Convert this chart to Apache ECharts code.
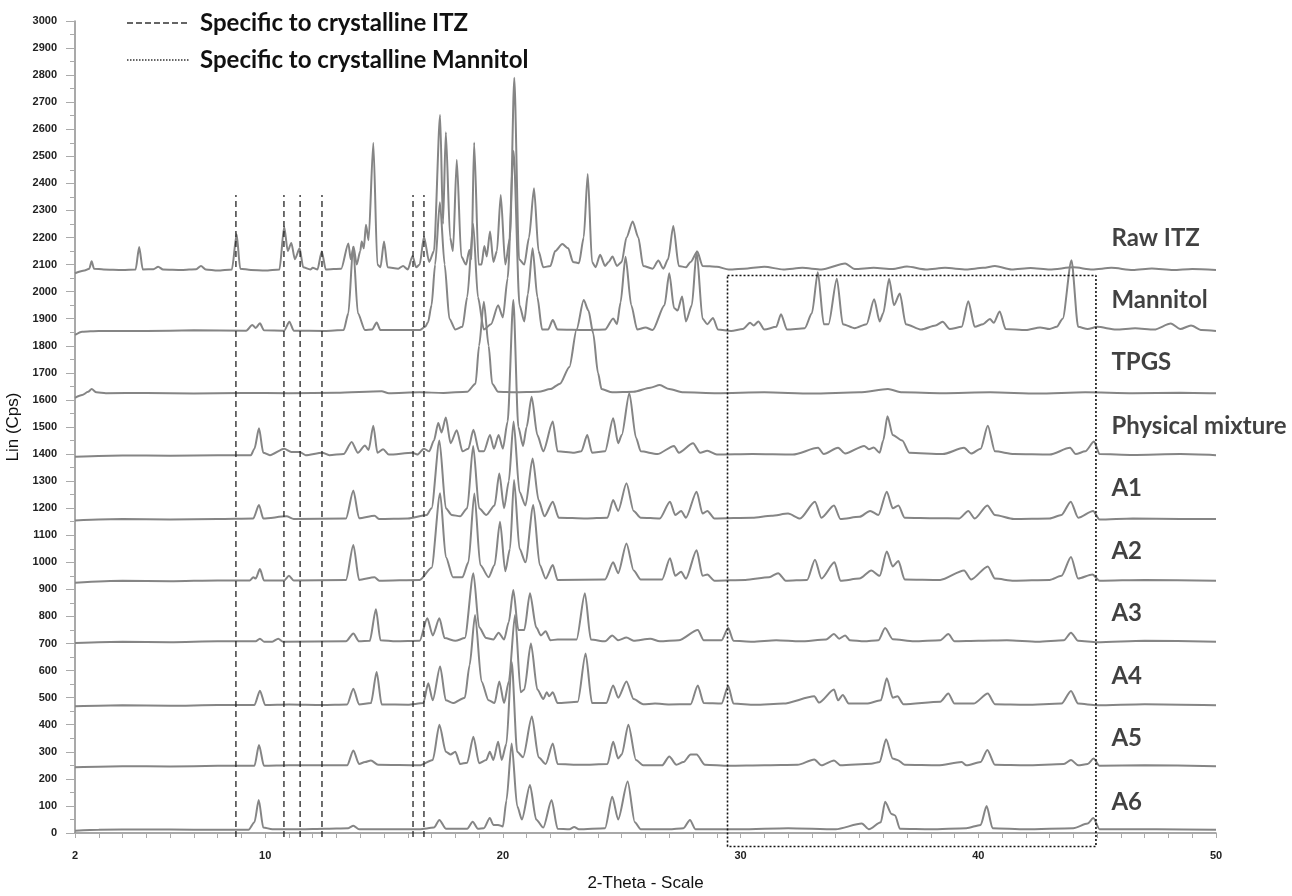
<!DOCTYPE html>
<html lang="en">
<head>
    <meta charset="UTF-8">
    <title>XRD patterns</title>
    <script src="https://cdn.jsdelivr.net/npm/echarts@6/dist/echarts.min.js"></script>
    <style>
        html, body { margin: 0; padding: 0; background: #fff; }
        #main { width: 1292px; height: 896px; }
    </style>
</head>
<body>
<div id="main"></div>
<script>
    // 2-Theta / Lin (Cps) points, one list per pattern
    var rawItz = [[2.0,2068],[2.4,2078],[2.6,2085],[2.7,2112],[2.8,2085],[3.2,2082],[4.0,2080],[4.55,2082],[4.7,2165],[4.85,2082],[5.3,2083],[5.5,2092],[5.7,2082],[6.5,2080],[7.1,2083],[7.3,2095],[7.5,2082],[8.0,2078],[8.6,2082],[8.8,2212],[8.95,2085],[9.4,2080],[10.0,2078],[10.6,2082],[10.8,2240],[10.95,2150],[11.1,2180],[11.25,2120],[11.45,2160],[11.6,2090],[11.9,2082],[12.0,2088],[12.2,2082],[12.38,2148],[12.55,2082],[13.2,2085],[13.5,2178],[13.6,2120],[13.72,2166],[13.85,2100],[14.0,2150],[14.06,2185],[14.15,2160],[14.24,2247],[14.35,2190],[14.55,2550],[14.72,2100],[14.85,2090],[15.0,2185],[15.15,2090],[15.6,2085],[15.8,2095],[16.0,2082],[16.2,2132],[16.35,2090],[16.5,2100],[16.68,2203],[16.9,2110],[17.1,2150],[17.36,2653],[17.48,2250],[17.6,2589],[17.78,2200],[17.9,2150],[18.06,2487],[18.25,2130],[18.45,2100],[18.59,2154],[18.68,2120],[18.79,2551],[18.98,2100],[19.1,2100],[19.22,2169],[19.32,2130],[19.46,2222],[19.6,2110],[19.75,2150],[19.91,2357],[20.1,2100],[20.3,2200],[20.48,2790],[20.68,2120],[20.9,2100],[21.1,2200],[21.31,2382],[21.5,2150],[21.7,2090],[22.0,2095],[22.2,2150],[22.5,2176],[22.75,2160],[22.95,2110],[23.2,2105],[23.4,2200],[23.57,2435],[23.75,2110],[23.9,2090],[24.09,2136],[24.3,2095],[24.45,2110],[24.61,2130],[24.8,2095],[25.0,2110],[25.2,2200],[25.46,2259],[25.7,2200],[25.9,2095],[26.3,2085],[26.54,2115],[26.75,2085],[26.95,2120],[27.17,2243],[27.4,2095],[27.7,2090],[27.9,2110],[28.18,2148],[28.4,2095],[29.0,2092],[29.5,2082],[30.3,2086],[31.0,2092],[31.8,2082],[32.6,2088],[33.4,2082],[34.4,2104],[34.8,2084],[35.6,2088],[36.4,2084],[37.0,2093],[37.8,2082],[38.6,2088],[39.5,2082],[40.2,2088],[40.7,2095],[41.4,2082],[42.2,2087],[43.0,2082],[44.0,2090],[44.8,2082],[45.6,2088],[46.5,2080],[47.3,2086],[48.2,2080],[49.0,2084],[50.0,2080]];

    var mannitol = [[2.0,1840],[2.3,1852],[3,1855],[5,1855],[7,1857],[9.2,1856],[9.46,1877],[9.6,1866],[9.78,1883],[9.95,1857],[10.8,1856],[11.02,1889],[11.2,1856],[12.5,1855],[13.3,1858],[13.5,1920],[13.7,2166],[13.9,1920],[14.2,1858],[14.5,1860],[14.69,1886],[14.85,1858],[16.5,1858],[16.73,1870],[16.85,1887],[17.0,1950],[17.15,2100],[17.35,2330],[17.55,2100],[17.75,1900],[18.0,1860],[18.3,1870],[18.5,1980],[18.75,2250],[18.95,1980],[19.2,1860],[19.5,1880],[19.8,1950],[20.0,1905],[20.2,2050],[20.45,2520],[20.7,1950],[20.9,1890],[21.05,1990],[21.25,2160],[21.45,1980],[21.65,1860],[21.9,1860],[22.1,1895],[22.3,1860],[23.5,1858],[24.3,1860],[24.64,1901],[24.8,1880],[24.95,1960],[25.16,2129],[25.4,1950],[25.65,1860],[26.0,1868],[26.3,1858],[26.8,1950],[27.0,2068],[27.2,1940],[27.35,1930],[27.54,1982],[27.7,1890],[27.95,1950],[28.15,2148],[28.4,1900],[28.6,1880],[28.84,1903],[29.05,1860],[29.6,1855],[30.1,1862],[30.4,1885],[30.55,1875],[30.75,1890],[31.0,1860],[31.5,1870],[31.7,1917],[31.95,1860],[32.7,1865],[33.0,1920],[33.25,2072],[33.5,1880],[33.7,1880],[34.05,2048],[34.3,1880],[34.8,1865],[35.3,1880],[35.62,1972],[35.85,1890],[36.0,1920],[36.25,2048],[36.45,1950],[36.7,1993],[36.95,1880],[37.6,1860],[38.2,1875],[38.5,1889],[38.8,1862],[39.3,1870],[39.58,1965],[39.85,1870],[40.2,1880],[40.49,1899],[40.65,1885],[40.9,1927],[41.15,1862],[42.0,1858],[42.6,1868],[43.0,1862],[43.3,1870],[43.55,1900],[43.92,2116],[44.2,1870],[44.6,1862],[45.0,1870],[45.8,1860],[46.6,1865],[47.4,1860],[48.1,1882],[48.5,1862],[48.95,1875],[49.4,1858],[50,1855]];

    var tpgs = [[2.0,1608],[2.3,1618],[2.55,1630],[2.7,1640],[2.9,1628],[3.3,1625],[5,1626],[7,1624],[9,1626],[11,1625],[13,1627],[14.9,1632],[15.2,1625],[16.5,1628],[17.5,1626],[18.5,1630],[18.85,1660],[19.0,1800],[19.2,1963],[19.4,1800],[19.55,1660],[19.8,1630],[20.5,1628],[21.5,1630],[22.0,1640],[22.4,1660],[22.8,1722],[23.1,1860],[23.4,1969],[23.6,1930],[23.8,1846],[24.0,1700],[24.15,1640],[24.6,1628],[25.5,1630],[26.2,1645],[26.6,1655],[27.0,1640],[27.6,1628],[29,1625],[31,1628],[33,1624],[35,1628],[36.2,1640],[36.8,1628],[38.5,1625],[40.5,1628],[42.5,1624],[44.5,1628],[46.5,1625],[48.5,1627],[50,1625]];

    var physMix = [[2,1390],[4,1395],[6,1394],[8,1396],[9.4,1396],[9.55,1420],[9.74,1495],[9.92,1405],[10.2,1396],[10.8,1420],[11.1,1408],[11.45,1408],[11.7,1396],[12.4,1405],[12.7,1396],[13.3,1400],[13.64,1445],[13.9,1405],[14.2,1432],[14.35,1415],[14.55,1505],[14.72,1405],[14.96,1418],[15.2,1398],[16.2,1405],[16.4,1398],[16.68,1420],[16.9,1410],[17.1,1450],[17.28,1515],[17.42,1480],[17.6,1535],[17.8,1440],[18.06,1488],[18.3,1410],[18.55,1420],[18.76,1490],[19.0,1410],[19.2,1410],[19.46,1470],[19.62,1420],[19.82,1470],[20.0,1420],[20.2,1520],[20.44,1969],[20.65,1500],[20.85,1430],[21.0,1500],[21.21,1612],[21.45,1470],[21.7,1410],[22.1,1520],[22.3,1410],[23.0,1405],[23.3,1410],[23.55,1470],[23.75,1405],[24.3,1410],[24.64,1532],[24.85,1440],[25.0,1470],[25.32,1625],[25.6,1460],[25.8,1410],[26.5,1400],[27.2,1430],[27.4,1405],[28.0,1440],[28.3,1405],[28.6,1412],[29,1398],[30.5,1400],[32.2,1398],[33.26,1423],[33.5,1400],[34.1,1423],[34.4,1402],[35.2,1430],[35.4,1418],[35.6,1424],[35.85,1405],[36.0,1450],[36.18,1540],[36.4,1470],[36.8,1450],[37.1,1405],[38.5,1400],[39.4,1423],[39.7,1402],[40.1,1420],[40.4,1505],[40.7,1410],[41.5,1400],[43.0,1398],[43.86,1423],[44.1,1400],[44.5,1410],[44.87,1446],[45.1,1400],[46.5,1397],[48.5,1400],[50,1396]];

    var a1 = [[2,1155],[4,1160],[6,1158],[8,1160],[9.5,1162],[9.74,1212],[9.92,1162],[10.9,1170],[11.2,1160],[13.4,1162],[13.71,1265],[13.95,1163],[14.6,1172],[14.8,1160],[16.0,1162],[16.8,1175],[17.0,1200],[17.33,1450],[17.6,1200],[17.85,1175],[18.2,1170],[18.5,1200],[18.75,1430],[19.0,1200],[19.3,1175],[19.65,1210],[19.85,1328],[20.05,1200],[20.25,1300],[20.45,1520],[20.7,1260],[20.95,1210],[21.25,1384],[21.5,1230],[21.75,1170],[22.1,1224],[22.35,1165],[23.5,1162],[24.4,1165],[24.64,1230],[24.85,1190],[25.2,1292],[25.5,1190],[25.8,1165],[26.6,1162],[27.03,1224],[27.25,1175],[27.5,1190],[27.7,1165],[28.15,1261],[28.4,1180],[28.6,1190],[28.9,1162],[30.5,1165],[31.3,1172],[32.0,1180],[32.5,1162],[33.13,1224],[33.4,1165],[33.93,1210],[34.2,1160],[35.0,1168],[35.45,1190],[35.8,1175],[36.15,1261],[36.4,1200],[36.64,1210],[36.9,1165],[38.2,1163],[39.2,1162],[39.58,1190],[39.85,1162],[40.38,1210],[40.7,1175],[41.5,1160],[43.0,1162],[43.5,1175],[43.89,1224],[44.2,1165],[44.83,1190],[45.1,1158],[46.5,1162],[48.5,1160],[50,1160]];

    var a2 = [[2,925],[4,932],[6,930],[8,933],[9.35,933],[9.5,945],[9.6,940],[9.78,975],[9.95,933],[10.8,933],[11.0,950],[11.2,933],[13.4,935],[13.71,1064],[13.95,935],[14.6,945],[14.8,932],[16.5,935],[17.0,980],[17.36,1255],[17.6,1020],[17.9,945],[18.3,945],[18.55,1000],[18.8,1254],[19.05,990],[19.4,945],[19.65,990],[19.88,1150],[20.1,967],[20.3,1050],[20.47,1304],[20.7,1050],[20.95,1000],[21.28,1212],[21.55,990],[21.8,940],[22.1,990],[22.3,935],[24.3,937],[24.64,1000],[24.85,960],[25.2,1070],[25.5,970],[25.8,937],[26.7,937],[27.03,1015],[27.25,950],[27.5,965],[27.7,940],[28.15,1045],[28.4,950],[28.6,955],[28.9,932],[30.2,935],[31.2,945],[31.58,960],[31.9,932],[32.8,935],[33.13,1010],[33.4,940],[33.95,1000],[34.2,932],[35.0,940],[35.5,970],[35.85,950],[36.15,1040],[36.4,985],[36.64,1005],[36.9,937],[38.4,935],[39.4,970],[39.7,937],[40.4,985],[40.7,940],[41.5,932],[43.0,935],[43.5,950],[43.9,1020],[44.2,940],[44.8,955],[45.1,932],[47,935],[50,932]];

    var a3 = [[2,702],[4,707],[6,705],[8,708],[9.6,708],[9.78,718],[9.95,707],[10.3,707],[10.55,718],[10.75,707],[13.4,708],[13.71,737],[13.95,708],[14.4,710],[14.66,827],[14.85,712],[15.5,708],[16.5,710],[16.82,793],[17.05,730],[17.33,793],[17.55,720],[18.0,710],[18.4,720],[18.76,960],[19.0,760],[19.3,720],[19.6,715],[19.82,740],[20.05,715],[20.25,780],[20.44,898],[20.65,750],[20.9,750],[21.14,886],[21.4,760],[21.6,730],[21.8,745],[22.0,712],[22.3,715],[23.1,715],[23.45,886],[23.7,715],[24.3,708],[24.6,730],[24.85,712],[25.2,722],[25.5,710],[26.2,718],[26.6,708],[27.4,712],[28.2,750],[28.45,712],[29.2,712],[29.48,757],[29.7,710],[30.5,707],[31.5,712],[32.5,708],[33.6,715],[33.93,735],[34.15,718],[34.4,730],[34.6,712],[35.2,708],[35.8,712],[36.08,757],[36.4,716],[37.3,708],[38.4,712],[38.74,735],[39.0,708],[40.0,710],[41.2,712],[42.5,707],[43.6,712],[43.9,740],[44.2,710],[45.0,705],[47.0,710],[50,707]];

    var a4 = [[2,468],[4,472],[6,470],[8,473],[9.55,473],[9.78,526],[10.0,473],[11.0,475],[12.4,473],[13.45,475],[13.71,533],[13.95,475],[14.45,480],[14.69,595],[14.9,475],[16.0,474],[16.65,480],[16.86,553],[17.05,490],[17.36,615],[17.6,490],[17.9,480],[18.4,500],[18.6,620],[18.83,805],[19.1,560],[19.4,490],[19.65,480],[19.85,560],[20.05,480],[20.25,560],[20.51,805],[20.75,520],[20.9,530],[21.18,700],[21.45,530],[21.7,495],[21.85,520],[21.95,505],[22.1,520],[22.3,480],[23.15,485],[23.48,663],[23.75,480],[24.35,480],[24.64,545],[24.85,500],[25.2,560],[25.5,495],[25.9,476],[26.4,478],[27.0,475],[27.9,476],[28.2,545],[28.45,480],[29.2,478],[29.48,543],[29.7,478],[30.6,474],[31.8,478],[33.1,505],[33.3,482],[33.93,530],[34.1,490],[34.3,510],[34.55,478],[35.3,478],[35.9,490],[36.15,572],[36.4,500],[36.6,505],[36.85,476],[38.4,485],[38.74,515],[39.0,478],[39.8,478],[40.4,515],[40.7,476],[42.0,474],[43.5,478],[43.9,525],[44.2,478],[45.0,472],[47.0,476],[50,472]];

    var a5 = [[2,243],[4,247],[6,246],[8,248],[9.55,248],[9.74,325],[9.95,248],[11,250],[13.45,250],[13.71,305],[13.95,255],[14.2,262],[14.45,268],[14.75,252],[16.5,250],[17.05,270],[17.33,400],[17.6,300],[17.8,290],[18.0,300],[18.2,255],[18.5,260],[18.76,356],[19.0,258],[19.3,270],[19.45,300],[19.6,270],[19.8,337],[19.95,270],[20.15,330],[20.37,633],[20.6,300],[20.85,280],[21.22,430],[21.5,280],[21.8,255],[22.1,331],[22.3,255],[23.3,252],[24.4,255],[24.64,337],[24.85,275],[25.0,290],[25.28,400],[25.6,270],[25.9,250],[26.7,250],[27.0,283],[27.3,252],[27.6,262],[27.9,290],[28.15,290],[28.5,252],[29.5,248],[31.0,250],[32.4,252],[33.1,272],[33.4,250],[33.93,268],[34.2,250],[35.5,256],[35.85,262],[36.12,346],[36.4,275],[36.6,270],[36.9,252],[38.3,250],[39.3,262],[39.5,250],[40.1,262],[40.38,307],[40.7,252],[42.0,250],[43.6,255],[43.9,270],[44.2,250],[44.6,255],[44.85,275],[45.1,248],[47,250],[50,247]];

    var a6 = [[2,8],[3,12],[5,13],[7,12],[9.3,12],[9.55,40],[9.73,122],[9.92,20],[10.3,14],[11.5,14],[12.5,16],[13.5,18],[13.71,27],[13.95,14],[16.5,14],[17.1,20],[17.33,48],[17.6,16],[18.5,16],[18.73,42],[18.95,16],[19.2,18],[19.45,55],[19.6,30],[19.8,30],[20.0,24],[20.15,120],[20.37,331],[20.6,100],[20.8,50],[21.14,177],[21.4,50],[21.7,20],[22.05,122],[22.3,16],[22.8,14],[23.0,22],[23.2,14],[24.3,18],[24.6,134],[24.85,50],[25.25,190],[25.55,40],[25.8,14],[27.0,14],[27.6,18],[27.87,48],[28.1,14],[30.0,14],[32.0,18],[34.0,14],[35.1,35],[35.4,14],[35.9,40],[36.08,115],[36.35,70],[36.5,65],[36.7,16],[38.0,14],[39.5,18],[40.1,30],[40.35,100],[40.6,18],[42,14],[44.0,18],[44.6,35],[44.84,55],[45.1,14],[47.5,14],[50,12]];

    var traceNames = ['Raw ITZ', 'Mannitol', 'TPGS', 'Physical mixture', 'A1', 'A2', 'A3', 'A4', 'A5', 'A6'];
    var traceData = [rawItz, mannitol, tpgs, physMix, a1, a2, a3, a4, a5, a6];
    // height (Cps) where each name sits, right of the patterns
    var nameLevels = [2199, 1970, 1740, 1504, 1275, 1042, 813, 580, 351, 115];
    var nameAt = 45.6;

    // dashed lines: reflections specific to crystalline ITZ
    var itzLines = [8.77, 10.79, 11.47, 12.39, 16.22, 16.68];
    var itzLineRange = [-15, 2357];
    // dotted box: region specific to crystalline mannitol
    var mannitolBoxX = [29.45, 44.95];
    var mannitolBoxY = [-50, 2060];

    var xLabels = [2, 10, 20, 30, 40, 50];
    var xTicks = [];
    for (var t = 2; t <= 50; t++) {
        xTicks.push(t);
    }

    var myChart = echarts.init(document.getElementById('main'));

    var series = [];
    for (var i = 0; i < traceData.length; i++) {
        series.push({
            name: traceNames[i],
            type: 'line',
            data: traceData[i],
            showSymbol: false,
            symbol: 'none',
            smooth: 0.25,
            smoothMonotone: 'x',
            silent: true,
            lineStyle: { color: '#858585', width: 2 }
        });
    }

    for (var j = 0; j < itzLines.length; j++) {
        series.push({
            type: 'line',
            data: [[itzLines[j], itzLineRange[0]], [itzLines[j], itzLineRange[1]]],
            symbol: 'none',
            silent: true,
            clip: false,
            z: 3,
            lineStyle: { color: '#222', width: 1.3, type: [6, 4] }
        });
    }

    series.push({
        type: 'line',
        data: [
            [mannitolBoxX[0], mannitolBoxY[1]],
            [mannitolBoxX[1], mannitolBoxY[1]],
            [mannitolBoxX[1], mannitolBoxY[0]],
            [mannitolBoxX[0], mannitolBoxY[0]],
            [mannitolBoxX[0], mannitolBoxY[1]]
        ],
        symbol: 'none',
        silent: true,
        clip: false,
        z: 3,
        lineStyle: { color: '#111', width: 1.6, type: [2, 2] }
    });

    // pattern names on the right
    var nameData = [];
    for (var k = 0; k < traceNames.length; k++) {
        nameData.push({ name: traceNames[k], value: [nameAt, nameLevels[k]] });
    }
    series.push({
        type: 'scatter',
        data: nameData,
        symbolSize: 0,
        silent: true,
        clip: false,
        label: {
            show: true,
            position: 'right',
            distance: 0,
            formatter: '{b}',
            fontFamily: 'Lato',
            fontWeight: 'bold',
            fontSize: 24,
            color: '#111'
        }
    });

    var option = {
        animation: false,
        backgroundColor: '#fff',
        grid: { left: 75, right: 76, top: 21, bottom: 63, outerBoundsMode: 'none' },
        xAxis: {
            type: 'value',
            min: 2,
            max: 50,
            name: '2-Theta - Scale',
            nameLocation: 'middle',
            nameGap: 42,
            nameTextStyle: { fontFamily: 'Liberation Sans', fontSize: 17, color: '#111' },
            axisLine: { lineStyle: { color: '#8c8c8c', width: 1.5 } },
            axisTick: { customValues: xTicks, length: 5, lineStyle: { color: '#aaa' } },
            axisLabel: {
                customValues: xLabels,
                margin: 17,
                fontFamily: 'Liberation Sans',
                fontWeight: 'bold',
                fontSize: 11,
                color: '#222'
            },
            splitLine: { show: false }
        },
        yAxis: {
            type: 'value',
            min: 0,
            max: 3000,
            interval: 100,
            name: 'Lin (Cps)',
            nameLocation: 'middle',
            nameRotate: 90,
            nameGap: 48,
            nameTextStyle: { fontFamily: 'Liberation Sans', fontSize: 17, color: '#111' },
            axisLine: { show: true, lineStyle: { color: '#8c8c8c', width: 1.5 } },
            axisTick: { show: true, length: 9, lineStyle: { color: '#aaa' } },
            minorTick: { show: true, splitNumber: 2, length: 5, lineStyle: { color: '#aaa' } },
            axisLabel: {
                margin: 18,
                formatter: function (v) { return String(v); },
                fontFamily: 'Liberation Sans',
                fontWeight: 'bold',
                fontSize: 11,
                color: '#222'
            },
            splitLine: { show: false }
        },
        graphic: [
            {
                type: 'line',
                shape: { x1: 127, y1: 23, x2: 190, y2: 23 },
                style: { stroke: '#333', lineWidth: 1.3, lineDash: [6, 3] }
            },
            {
                type: 'text',
                x: 200, y: 23,
                style: { text: 'Specific to crystalline ITZ', fontFamily: 'Lato', fontWeight: 'bold', fontSize: 24, fill: '#111', verticalAlign: 'middle' }
            },
            {
                type: 'line',
                shape: { x1: 127, y1: 60, x2: 190, y2: 60 },
                style: { stroke: '#333', lineWidth: 1.5, lineDash: [1.5, 1.5] }
            },
            {
                type: 'text',
                x: 200, y: 60,
                style: { text: 'Specific to crystalline Mannitol', fontFamily: 'Lato', fontWeight: 'bold', fontSize: 24, fill: '#111', verticalAlign: 'middle' }
            }
        ],
        series: series
    };
    myChart.setOption(option);
</script>
</body>
</html>
